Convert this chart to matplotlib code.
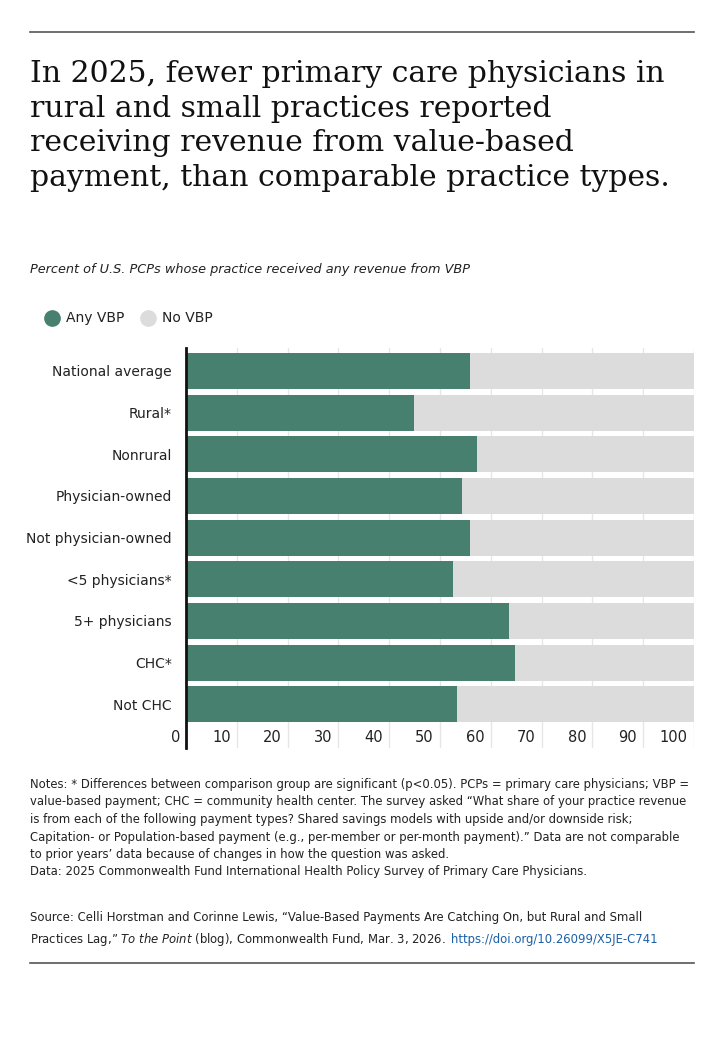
import matplotlib.pyplot as plt
from matplotlib.lines import Line2D

categories = ["National average", "Rural*", "Nonrural", "Physician-owned",
              "Not physician-owned", "<5 physicians*", "5+ physicians", "CHC*", "Not CHC"]
any_vbp = [56.0, 44.8, 57.3, 54.3, 55.9, 52.6, 63.6, 64.8, 53.3]
no_vbp = [100 - v for v in any_vbp]
ticks = list(range(0, 101, 10))

green = "#47806e"
grey = "#dcdcdc"

fig = plt.figure(figsize=(7.25, 10.53), dpi=100)
W, H = 725, 1053

def fy(y):
    return 1 - y / H

fig.add_artist(Line2D([30/W, 694/W], [fy(32), fy(32)], color="#555555", lw=1.2))
fig.add_artist(Line2D([30/W, 694/W], [fy(963), fy(963)], color="#555555", lw=1.2))

fig.text(30/W, fy(60), "In 2025, fewer primary care physicians in\nrural and small practices reported\nreceiving revenue from value-based\npayment, than comparable practice types.",
         family="DejaVu Serif", fontsize=21.5, va="top", linespacing=1.3, color="#111111")
fig.text(30/W, fy(270), "Percent of U.S. PCPs whose practice received any revenue from VBP",
         fontsize=9.3, style="italic", va="center", color="#222222")

# legend
fig.add_artist(Line2D([52/W], [fy(318)], marker="o", ms=11, color=green, ls=""))
fig.text(66/W, fy(318), "Any VBP", fontsize=10, va="center", color="#222222")
fig.add_artist(Line2D([148/W], [fy(318)], marker="o", ms=11, color=grey, ls=""))
fig.text(162/W, fy(318), "No VBP", fontsize=10, va="center", color="#222222")

ax = fig.add_axes([186/W, fy(748), (694-186)/W, (748-348)/H])
ypos = range(len(categories))
for x in ticks[1:]:
    ax.axvline(x, color="#e6e6e6", lw=1, zorder=0)
ax.barh(ypos, any_vbp, color=green, height=0.86, zorder=2)
ax.barh(ypos, no_vbp, left=any_vbp, color=grey, height=0.86, zorder=2)
ax.set_xlim(0, 100)
ax.set_ylim(len(categories) - 0.5 + 0.55, -0.55)
ax.set_yticks(list(ypos))
ax.set_yticklabels(categories, fontsize=10, color="#222222")
ax.set_xticks(ticks)
ax.set_xticklabels([])
for x in ticks:
    ax.text(x - 1.2, len(categories) - 0.5 + 0.3, str(x), ha="right", va="center",
            fontsize=10.5, color="#222222")
ax.tick_params(length=0, pad=10)
for s in ["top", "right", "bottom"]:
    ax.spines[s].set_visible(False)
ax.spines["left"].set_linewidth(2)
ax.spines["left"].set_color("#111111")
ax.spines["left"].set_zorder(3)

notes = ("Notes: * Differences between comparison group are significant (p<0.05). PCPs = primary care physicians; VBP =\n"
         "value-based payment; CHC = community health center. The survey asked \u201cWhat share of your practice revenue\n"
         "is from each of the following payment types? Shared savings models with upside and/or downside risk;\n"
         "Capitation- or Population-based payment (e.g., per-member or per-month payment).\u201d Data are not comparable\n"
         "to prior years\u2019 data because of changes in how the question was asked.\n"
         "Data: 2025 Commonwealth Fund International Health Policy Survey of Primary Care Physicians.")
fig.text(30/W, fy(778), notes, fontsize=8.4, va="top", linespacing=1.45, color="#222222")

fig.text(30/W, fy(918), "Source: Celli Horstman and Corinne Lewis, \u201cValue-Based Payments Are Catching On, but Rural and Small",
         fontsize=8.4, va="center", color="#222222")
t = fig.text(30/W, fy(940), "Practices Lag,\u201d $\\it{To\\ the\\ Point}$ (blog), Commonwealth Fund, Mar. 3, 2026.",
             fontsize=8.4, va="center", color="#222222")
fig.canvas.draw()
bb = t.get_window_extent()
fig.text(bb.x1 / W + 5/W, fy(940), "https://doi.org/10.26099/X5JE-C741", fontsize=8.4, va="center",
         color="#1a5fa8")

fig.savefig("out.png", dpi=100, facecolor="white")
